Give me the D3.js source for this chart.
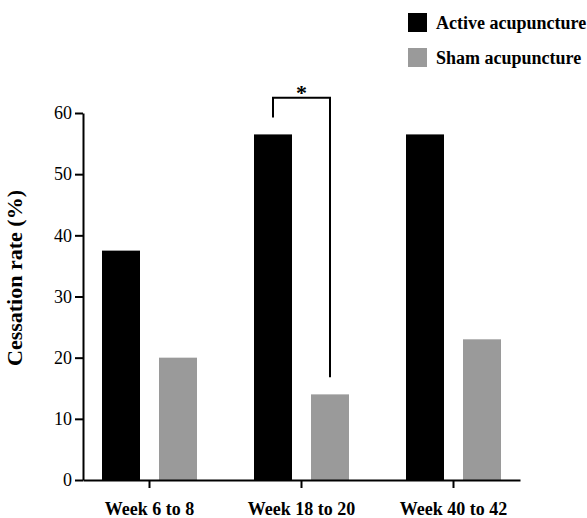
<!DOCTYPE html>
<meta charset="utf-8">
<style>
  body { margin: 0; background: #fff; }
  text { font-family: "Liberation Serif", "Times New Roman", serif; }
</style>
<script src="https://d3js.org/d3.v7.min.js"></script>
<svg width="587" height="518"></svg>
<script>
var categories = ["Week 6 to 8", "Week 18 to 20", "Week 40 to 42"];
var seriesNames = ["Active acupuncture", "Sham acupuncture"];
var activeValues = [37.5, 56.5, 56.5];
var shamValues = [20, 14, 23];
var yTicks = [0, 10, 20, 30, 40, 50, 60];

var svg = d3.select("svg");
var plotLeft = 83, plotRight = 520, plotTop = 113, plotBottom = 480;

var x0 = d3.scaleBand()
    .domain(categories)
    .range([plotLeft, plotRight])
    .paddingInner(0.375)
    .paddingOuter(0.125);

var x1 = d3.scaleBand()
    .domain(seriesNames)
    .range([0, x0.bandwidth()])
    .paddingInner(1 / 3);

var y = d3.scaleLinear().domain([0, 60]).range([plotBottom, plotTop]);

var z = d3.scaleOrdinal().domain(seriesNames).range(["#000000", "#9a9a9a"]);

var data = categories.map(function (c, i) {
    return { cat: c, values: [
        { key: seriesNames[0], value: activeValues[i] },
        { key: seriesNames[1], value: shamValues[i] }
    ] };
});

// bars
var group = svg.append("g").selectAll("g")
    .data(data)
    .enter().append("g")
    .attr("transform", function (d) { return "translate(" + x0(d.cat) + ",0)"; });

group.selectAll("rect")
    .data(function (d) { return d.values; })
    .enter().append("rect")
    .attr("x", function (d) { return x1(d.key); })
    .attr("y", function (d) { return y(d.value); })
    .attr("width", x1.bandwidth())
    .attr("height", function (d) { return plotBottom - y(d.value); })
    .attr("fill", function (d) { return z(d.key); });

// y axis
var yAxis = svg.append("g")
    .attr("transform", "translate(" + plotLeft + ",0)")
    .call(d3.axisLeft(y).tickValues(yTicks).tickSize(8).tickPadding(3).tickSizeOuter(0));
yAxis.select(".domain").attr("stroke-width", 2);
yAxis.selectAll(".tick line").attr("stroke-width", 2);
yAxis.selectAll("text")
    .attr("font-family", "Liberation Serif")
    .attr("font-size", 18)
    .attr("fill", "#000");

// x axis
var xAxis = svg.append("g")
    .attr("transform", "translate(0," + plotBottom + ")")
    .call(d3.axisBottom(x0).tickSize(8).tickPadding(14).tickSizeOuter(0));
xAxis.select(".domain").attr("stroke-width", 2);
xAxis.selectAll(".tick line").attr("stroke-width", 2);
xAxis.selectAll("text")
    .attr("font-family", "Liberation Serif")
    .attr("font-size", 18)
    .attr("font-weight", "bold")
    .attr("fill", "#000");

// y label
svg.append("text")
    .attr("transform", "translate(22,278) rotate(-90)")
    .attr("text-anchor", "middle")
    .attr("font-size", 22)
    .attr("font-weight", "bold")
    .text("Cessation rate (%)");

// significance bracket
var i = 1;
var bx1 = x0(categories[i]) + x1(seriesNames[0]) + x1.bandwidth() / 2;
var bx2 = x0(categories[i]) + x1(seriesNames[1]) + x1.bandwidth() / 2;
var by = y(62.5);
svg.append("path")
    .attr("d", "M" + bx1 + "," + (y(activeValues[i]) - 17) + "V" + by + "H" + bx2 + "V" + (y(shamValues[i]) - 17))
    .attr("fill", "none")
    .attr("stroke", "#000")
    .attr("stroke-width", 2);
svg.append("text")
    .attr("x", (bx1 + bx2) / 2)
    .attr("y", by + 2)
    .attr("text-anchor", "middle")
    .attr("font-size", 22)
    .attr("font-weight", "bold")
    .text("*");

// legend
var legend = svg.append("g").selectAll("g")
    .data(seriesNames)
    .enter().append("g")
    .attr("transform", function (d, k) { return "translate(408," + (13 + k * 35) + ")"; });

legend.append("rect")
    .attr("width", 19)
    .attr("height", 19)
    .attr("fill", z);

legend.append("text")
    .attr("x", 28)
    .attr("y", 16)
    .attr("font-size", 18)
    .attr("font-weight", "bold")
    .text(function (d) { return d; });
</script>
